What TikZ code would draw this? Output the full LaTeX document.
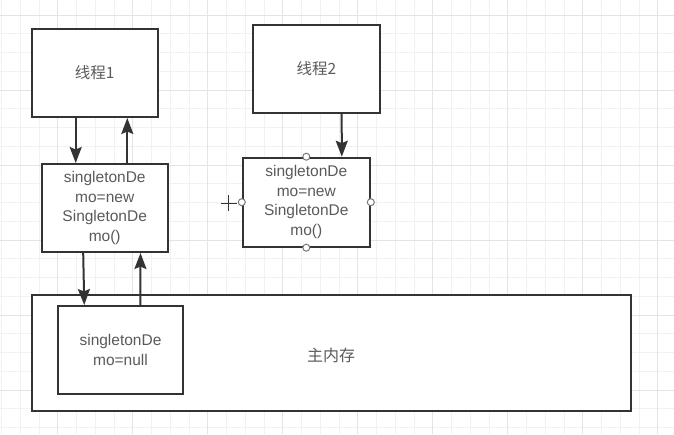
\documentclass[tikz,border=0pt]{standalone}
\usepackage{fontspec}
\setmainfont{Liberation Sans}
\newfontfamily\cjk{Noto Sans CJK SC}
\usetikzlibrary{arrows.meta}
\definecolor{boxline}{HTML}{333333}
\definecolor{txtgray}{HTML}{5A5A5A}
\definecolor{gridminor}{HTML}{F1F1F1}
\definecolor{gridmajor}{HTML}{E4E4E4}
\definecolor{handlegray}{HTML}{777777}
\tikzset{
  boxnode/.style={draw=boxline, line width=2pt, fill=white, rectangle, inner sep=0pt,
    text=txtgray, font=\fontsize{15.5}{19.5}\selectfont, align=center},
  arr/.style={draw=boxline, line width=2pt, -{Stealth[length=16pt,width=12pt,inset=2.5pt]}},
  handle/.style={circle, draw=handlegray, line width=1pt, fill=white, minimum size=7pt, inner sep=0pt},
  plusmark/.style={draw=boxline, line width=1pt}
}
\begin{document}
\begin{tikzpicture}[x=1pt,y=-1pt]
\useasboundingbox (0,0) rectangle (674,434);
\fill[white] (0,0) rectangle (674,434);
% grid
\foreach \i in {0,...,36} {\draw[gridminor, line width=0.8pt] ({1.45+\i*18.75},0) -- ({1.45+\i*18.75},434);}
\foreach \j in {0,...,24} {\draw[gridminor, line width=0.8pt] (0,{-3.75+\j*18.75}) -- (674,{-3.75+\j*18.75});}
\foreach \i in {0,...,9} {\draw[gridmajor, line width=0.9pt] ({57.7+(\i-1)*75},0) -- ({57.7+(\i-1)*75},434);}
\foreach \j in {0,...,6} {\draw[gridmajor, line width=0.9pt] (0,{15+\j*75}) -- (674,{15+\j*75});}

% boxes
\node[boxnode, minimum width=126pt, minimum height=88pt] (t1) at (94.7,73) {\cjk 线程1};
\node[boxnode, minimum width=126pt, minimum height=88pt] (A) at (104.7,208) {singletonDe\\mo=new\\SingletonDe\\mo()};
\node[boxnode, minimum width=127pt, minimum height=88pt] (t2) at (316.5,69) {\cjk 线程2};
\node[boxnode, minimum width=127pt, minimum height=89pt] (B) at (306.3,202.2) {singletonDe\\mo=new\\SingletonDe\\mo()};
\node[boxnode, minimum width=599pt, minimum height=116pt] (mem) at (331.5,353) {};
\node[text=txtgray, font=\fontsize{16}{19}\selectfont] (memlabel) at (331,355) {\cjk 主内存};
\node[boxnode, minimum width=125.5pt, minimum height=88pt] (inner) at (120.5,350) {singletonDe\\mo=null};

% arrows
\draw[arr] ([xshift=45pt]t1.south west) -- ([xshift=35pt]A.north west);
\draw[arr] ([xshift=86.6pt]A.north west) -- ([xshift=96.6pt]t1.south west);
\draw[arr] ([xshift=42.5pt]A.south west) -- ([xshift=27.5pt]inner.north west);
\draw[arr] ([xshift=83.5pt]inner.north west) -- ([xshift=99.8pt]A.south west);
\draw[arr] ([xshift=89.7pt]t2.south west) -- ([xshift=100pt]B.north west);

% selection handles
\node[handle] (hn) at (B.north) {};
\node[handle] (hs) at (B.south) {};
\node[handle] (hw) at (B.west) {};
\node[handle] (he) at (B.east) {};
\coordinate (pc) at (228.5,203);
\draw[plusmark] ([xshift=-8pt]pc) -- ([xshift=8pt]pc) ([yshift=-8pt]pc) -- ([yshift=8pt]pc);
\end{tikzpicture}
\end{document}
